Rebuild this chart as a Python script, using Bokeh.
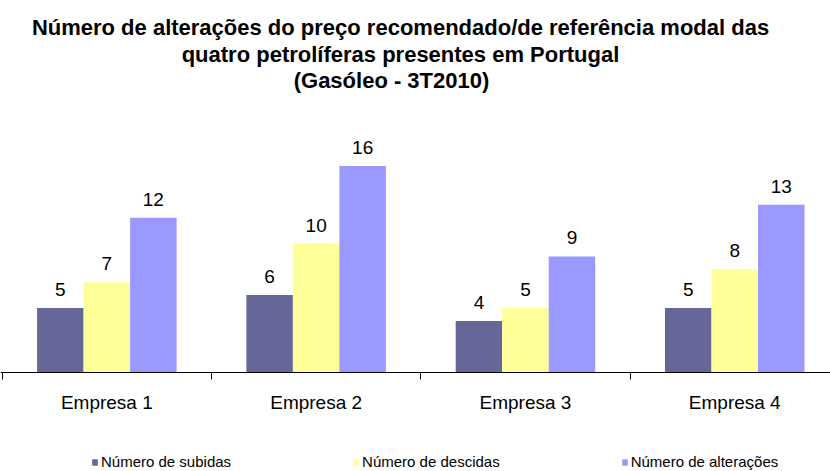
from bokeh.plotting import figure
from bokeh.models import (ColumnDataSource, Range1d, FixedTicker, LinearAxis, Label,
                          LabelSet, Legend, LegendItem)
from bokeh.core.properties import value
from bokeh.transform import dodge
from bokeh.embed import file_html
from bokeh.resources import INLINE

# ---- data ----
companies = ["Empresa 1", "Empresa 2", "Empresa 3", "Empresa 4"]
subidas = [5, 6, 4, 5]
descidas = [7, 10, 5, 8]
alteracoes = [12, 16, 9, 13]
series_names = ["Número de subidas", "Número de descidas", "Número de alterações"]
colors = ["#666699", "#FFFF99", "#9999FF"]
title_lines = ["Número de alterações do preço recomendado/de referência modal das",
               "quatro petrolíferas presentes em Portugal",
               "(Gasóleo - 3T2010)"]

centers = [i + 0.5 for i in range(len(companies))]
src = ColumnDataSource(dict(x=centers, sub=subidas, des=descidas, alt=alteracoes,
                            sub_s=[str(v) for v in subidas],
                            des_s=[str(v) for v in descidas],
                            alt_s=[str(v) for v in alteracoes]))

W, H = 830, 471
px_per_cat = 209.3
px_per_unit = 12.9
axis_y = 372
x0 = (0 - 1.7) / px_per_cat
y_top = axis_y / px_per_unit
y_bot = -(H - axis_y) / px_per_unit

p = figure(width=W, height=H, output_backend="svg", toolbar_location=None,
           x_range=Range1d(x0, x0 + W / px_per_cat), y_range=Range1d(y_bot, y_top),
           x_axis_type=None, y_axis_type=None, min_border=0)
p.outline_line_color = None
p.xgrid.visible = False
p.ygrid.visible = False
p.background_fill_color = "white"

bw = 1 / 4.5
r1 = p.vbar(x=dodge("x", -bw, range=p.x_range), top="sub", bottom=0, width=bw,
            source=src, fill_color=colors[0], line_color=None)
r2 = p.vbar(x=dodge("x", 0, range=p.x_range), top="des", bottom=0, width=bw,
            source=src, fill_color=colors[1], line_color=None)
r3 = p.vbar(x=dodge("x", bw, range=p.x_range), top="alt", bottom=0, width=bw,
            source=src, fill_color=colors[2], line_color=None)

for off, col, txt in [(-bw, "sub", "sub_s"), (0, "des", "des_s"), (bw, "alt", "alt_s")]:
    ls = LabelSet(x=dodge("x", off, range=p.x_range), y=col, text=txt, source=src,
                  y_offset=12, text_align="center", text_baseline="alphabetic",
                  text_font=value("Liberation Sans"), text_font_size=value("19px"),
                  text_color="black")
    p.add_layout(ls)

ax = LinearAxis(fixed_location=0,
                ticker=FixedTicker(ticks=centers, minor_ticks=list(range(len(companies) + 1))),
                major_label_overrides={c: n for c, n in zip(centers, companies)})
ax.axis_line_color = "#000000"
ax.axis_line_width = 1
ax.major_tick_line_color = None
ax.major_tick_out = 0
ax.major_tick_in = 0
ax.minor_tick_line_color = "#000000"
ax.minor_tick_out = 7
ax.minor_tick_in = 0
ax.major_label_standoff = 12
ax.major_label_text_font = "Liberation Sans"
ax.major_label_text_font_size = "19px"
ax.major_label_text_color = "black"
p.add_layout(ax, "below")

legend = Legend(items=[LegendItem(label=series_names[0], renderers=[r1]),
                       LegendItem(label=series_names[1], renderers=[r2]),
                       LegendItem(label=series_names[2], renderers=[r3])],
                orientation="horizontal", location=(91, 1),
                glyph_width=7, glyph_height=8, label_standoff=3, spacing=121,
                label_height=16, padding=0, margin=0,
                label_text_font="Liberation Sans", label_text_font_size="15px",
                label_text_color="black", border_line_color=None,
                background_fill_alpha=0)
p.add_layout(legend)

for txt, cx, by in zip(title_lines, [400, 400, 391], [444, 417, 391]):
    p.add_layout(Label(x=cx, y=by, x_units="screen", y_units="screen", text=txt,
                       text_align="center", text_baseline="alphabetic",
                       text_font="Liberation Sans", text_font_style="bold",
                       text_font_size="22px", text_color="black"))

open("out.html", "w").write(file_html(p, INLINE))
